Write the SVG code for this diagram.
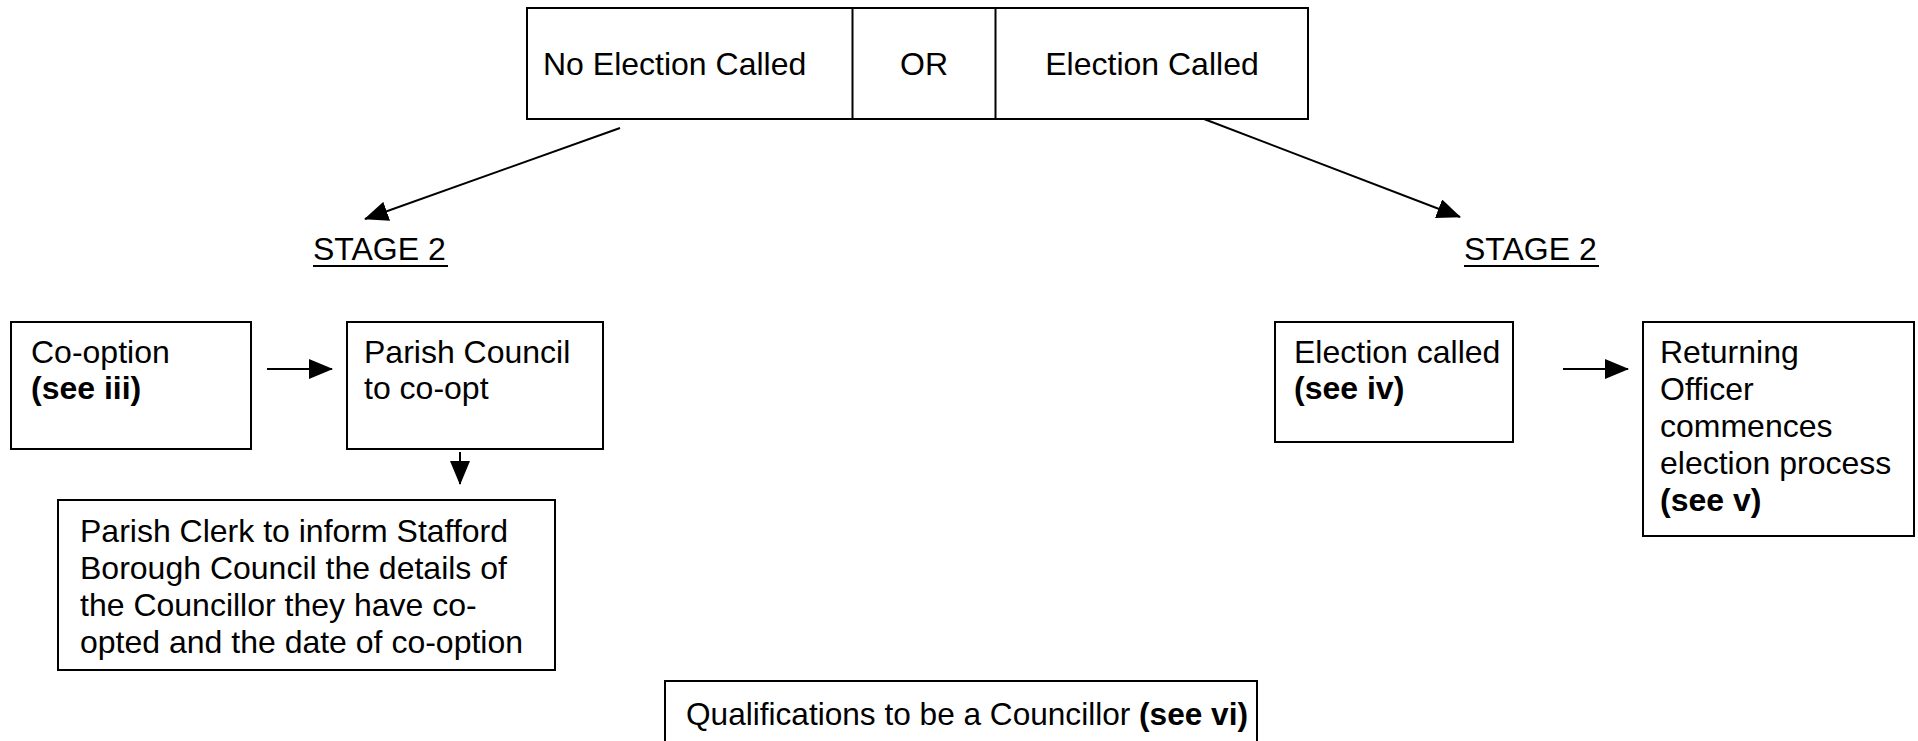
<svg xmlns="http://www.w3.org/2000/svg" width="1918" height="741" viewBox="0 0 1918 741">
<style>
.box{fill:#fff;stroke:#000;stroke-width:2}
.t{font-family:"Liberation Sans",Arial,sans-serif;font-size:32px;fill:#000}
.b{font-weight:bold}
.c{stroke:#000;stroke-width:2;fill:none;marker-end:url(#ah)}
</style>
<defs>
<marker id="ah" markerUnits="userSpaceOnUse" markerWidth="24" markerHeight="20" refX="23" refY="10" orient="auto" viewBox="0 0 24 20">
<path d="M0,0 L24,10 L0,20 z" fill="#000"/>
</marker>
</defs>
<rect width="1918" height="741" fill="#fff"/>
<g id="decision">
<rect class="box" x="527" y="8" width="781" height="111"/>
<line x1="852.5" y1="8" x2="852.5" y2="119" stroke="#000" stroke-width="2"/>
<line x1="995.5" y1="8" x2="995.5" y2="119" stroke="#000" stroke-width="2"/>
<text class="t" x="543" y="75">No Election Called</text>
<text class="t" x="924" y="75" text-anchor="middle">OR</text>
<text class="t" x="1152" y="75" text-anchor="middle">Election Called</text>
</g>
<g id="stage2-left">
<text class="t" x="313" y="260">STAGE 2</text>
<line x1="313" y1="266" x2="448" y2="266" stroke="#000" stroke-width="2"/>
</g>
<g id="stage2-right">
<text class="t" x="1464" y="260">STAGE 2</text>
<line x1="1464" y1="266" x2="1599" y2="266" stroke="#000" stroke-width="2"/>
</g>
<g id="cooption">
<rect class="box" x="11" y="322" width="240" height="127"/>
<text class="t" x="31" y="363">Co-option</text>
<text class="t b" x="31" y="399">(see iii)</text>
</g>
<g id="parish-council">
<rect class="box" x="347" y="322" width="256" height="127"/>
<text class="t" x="364" y="363">Parish Council</text>
<text class="t" x="364" y="399">to co-opt</text>
</g>
<g id="parish-clerk">
<rect class="box" x="58" y="500" width="497" height="170"/>
<text class="t" x="80" y="542">Parish Clerk to inform Stafford</text>
<text class="t" x="80" y="579">Borough Council the details of</text>
<text class="t" x="80" y="616">the Councillor they have co-</text>
<text class="t" x="80" y="653">opted and the date of co-option</text>
</g>
<g id="election-called">
<rect class="box" x="1275" y="322" width="238" height="120"/>
<text class="t" x="1294" y="363">Election called</text>
<text class="t b" x="1294" y="399">(see iv)</text>
</g>
<g id="returning-officer">
<rect class="box" x="1643" y="322" width="271" height="214"/>
<text class="t" x="1660" y="363">Returning</text>
<text class="t" x="1660" y="400">Officer</text>
<text class="t" x="1660" y="437">commences</text>
<text class="t" x="1660" y="474">election process</text>
<text class="t b" x="1660" y="511">(see v)</text>
</g>
<g id="qualifications">
<rect class="box" x="665" y="681" width="592" height="80"/>
<text class="t" x="686" y="725" style="font-size:31.6px">Qualifications to be a Councillor <tspan class="b">(see vi)</tspan></text>
</g>
<g id="connectors">
<line class="c" x1="620" y1="128" x2="365" y2="219"/>
<line class="c" x1="1204" y1="119" x2="1460" y2="217"/>
<line class="c" x1="267" y1="369" x2="332" y2="369"/>
<line class="c" x1="460" y1="452" x2="460" y2="484"/>
<line class="c" x1="1563" y1="369" x2="1628" y2="369"/>
</g>
</svg>
